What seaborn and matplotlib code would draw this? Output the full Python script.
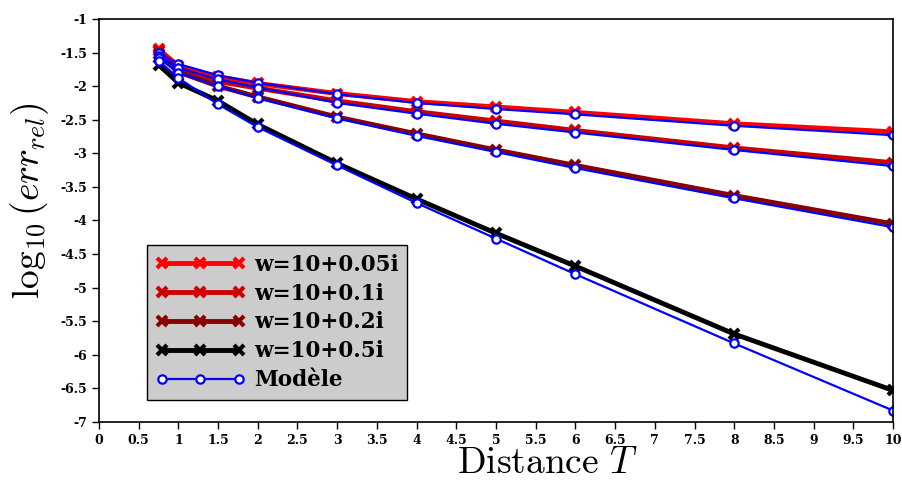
import matplotlib
matplotlib.use("Agg")
import matplotlib.pyplot as plt
import numpy as np
import pandas as pd
import seaborn as sns

# Distances T
T = [0.75, 1, 1.5, 2, 3, 4, 5, 6, 8, 10]

# log10(err_rel) pour chaque w (mesures)
err_005 = [-1.45, -1.70, -1.86, -1.96, -2.11, -2.23, -2.31, -2.39, -2.56, -2.68]
err_01 = [-1.48, -1.74, -1.93, -2.03, -2.22, -2.38, -2.52, -2.66, -2.92, -3.14]
err_02 = [-1.52, -1.79, -2.00, -2.16, -2.46, -2.71, -2.95, -3.18, -3.63, -4.05]
err_05 = [-1.68, -1.95, -2.22, -2.57, -3.15, -3.68, -4.19, -4.68, -5.69, -6.53]

# Modèle
mod_005 = [-1.51, -1.67, -1.84, -1.95, -2.12, -2.25, -2.34, -2.42, -2.59, -2.73]
mod_01 = [-1.55, -1.73, -1.90, -2.02, -2.25, -2.41, -2.56, -2.69, -2.95, -3.19]
mod_02 = [-1.58, -1.80, -2.00, -2.18, -2.48, -2.74, -2.98, -3.22, -3.67, -4.10]
mod_05 = [-1.62, -1.88, -2.27, -2.61, -3.18, -3.74, -4.27, -4.80, -5.83, -6.83]

labels = ["w=10+0.05i", "w=10+0.1i", "w=10+0.2i", "w=10+0.5i"]
colors = ["#ff0000", "#cc0000", "#880000", "#000000"]
series = [err_005, err_01, err_02, err_05]
models = [mod_005, mod_01, mod_02, mod_05]

sns.set_style("ticks")
plt.rcParams["font.family"] = ["DejaVu Serif"]
plt.rcParams["mathtext.fontset"] = "cm"
plt.rcParams["axes.unicode_minus"] = False
plt.rcParams["text.color"] = "black"
plt.rcParams["axes.labelcolor"] = "black"
plt.rcParams["xtick.color"] = "black"
plt.rcParams["ytick.color"] = "black"

fig = plt.figure(figsize=(9.03, 4.82), dpi=100)
ax = fig.add_axes([0.1096, 0.1245, 0.8794, 0.8361])

for lab, col, ys in zip(labels, colors, series):
    df = pd.DataFrame({"T": T, "err": ys})
    sns.lineplot(data=df, x="T", y="err", ax=ax, color=col, linewidth=3.5,
                 marker="x", markersize=7, markeredgewidth=3,
                 markeredgecolor=col, label=lab)

for i, ys in enumerate(models):
    df = pd.DataFrame({"T": T, "err": ys})
    sns.lineplot(data=df, x="T", y="err", ax=ax, color="#0000ff", linewidth=1.6,
                 marker="o", markersize=6, markerfacecolor="white",
                 markeredgecolor="#0000ff", markeredgewidth=1.6,
                 label="Modèle" if i == 0 else None)

ax.set_xlim(0, 10)
ax.set_ylim(-7, -1)
ax.set_xticks(np.arange(0, 10.01, 0.5))
ax.set_yticks(np.arange(-7, -0.99, 0.5))
ax.set_xticklabels([f"{v:g}" for v in np.arange(0, 10.01, 0.5)])
ax.set_yticklabels([f"{v:g}" for v in np.arange(-7, -0.99, 0.5)])
ax.tick_params(axis="both", labelsize=9, direction="out", length=5, width=1)
for lbl in ax.get_xticklabels() + ax.get_yticklabels():
    lbl.set_fontweight("bold")
for sp in ax.spines.values():
    sp.set_linewidth(1.2)
    sp.set_color("black")

ax.set_xlabel(r"$\mathrm{Distance}\ T$", fontsize=27)
ax.xaxis.set_label_coords(0.564, -0.058)
ax.set_ylabel(r"$\log_{10}(err_{rel})$", fontsize=27)
ax.yaxis.set_label_coords(-0.06, 0.55)

leg = ax.legend(loc="lower left", bbox_to_anchor=(0.06, 0.055), numpoints=3,
                handlelength=4.2, prop={"weight": "bold", "size": 15.5},
                frameon=True, fancybox=False, borderpad=0.4, labelspacing=0.32,
                handletextpad=0.4, borderaxespad=0)
leg.get_frame().set_facecolor("#cccccc")
leg.get_frame().set_edgecolor("black")
leg.get_frame().set_alpha(1)

fig.savefig("out.png", dpi=100)
